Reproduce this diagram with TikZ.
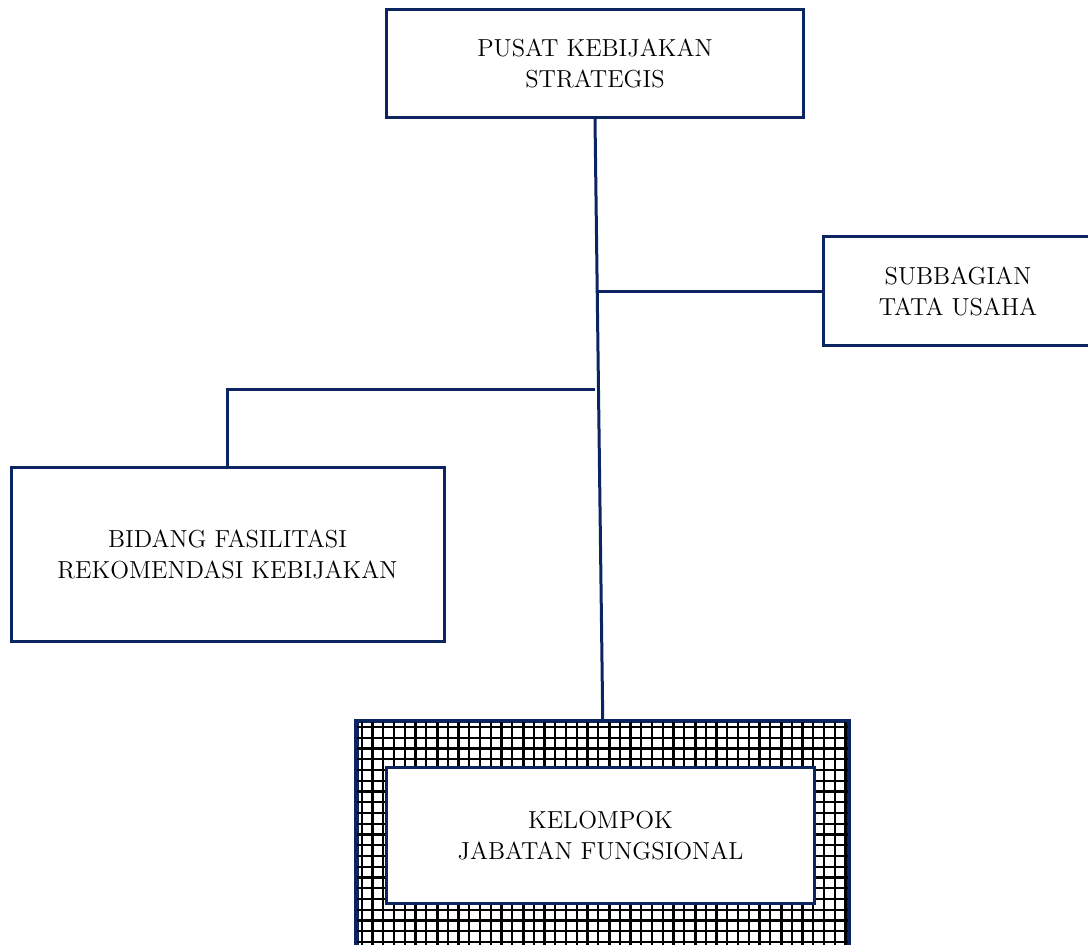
\documentclass[tikz,border=0pt]{standalone}
\usepackage{tikz}
\usepackage{color}
\definecolor{navy}{RGB}{12,36,96}

\begin{document}
\begin{tikzpicture}[x=0.5pt,y=-0.5pt,line width=1.5pt]
\tikzset{unitbox/.style={draw=navy,fill=white,align=center,inner sep=0pt,
  font=\fontsize{12.3}{15.4}\selectfont}}
\useasboundingbox (0,0) rectangle (1088,945);
%put boxes
\node[unitbox,minimum width=208.5pt,minimum height=54pt] (pusat) at (595,63.5)
  {PUSAT KEBIJAKAN\\STRATEGIS};
\node[unitbox,minimum width=135pt,minimum height=54.5pt] (subbag) at (958,291.5)
  {SUBBAGIAN\\TATA USAHA};
\node[unitbox,minimum width=216.5pt,minimum height=87pt] (bidang) at (227.5,554.5)
  {BIDANG FASILITASI\\REKOMENDASI KEBIJAKAN};
%grid frame
\node[draw=navy,minimum width=245.5pt,minimum height=114pt,inner sep=0pt] (kelompok) at (602.75,835.75) {};
\begin{scope}
\clip (kelompok.south west) rectangle (kelompok.north east);
\foreach \gx in {0,...,47} {\draw[black,line width=1.1pt] (351+\gx*10.75,700) -- ++(0,260);}
\foreach \gy in {0,...,22} {\draw[black,line width=1.1pt] (340,716.25+\gy*10.75) -- ++(520,0);}
\foreach \gx in {0,...,6} {\draw[black,line width=1.5pt] (351+\gx*86,700) -- ++(0,260);}
\end{scope}
\draw[navy] (kelompok.south west) rectangle (kelompok.north east);
\node[unitbox,minimum width=214pt,minimum height=68.25pt] (jabfung) at (600.5,835.75)
  {KELOMPOK\\JABATAN FUNGSIONAL};
%lines
\coordinate (j1) at (597,291.5);
\coordinate (j2) at (595,390);
\draw[navy] (pusat.south) -- (kelompok.north);
\draw[navy] (j1) -- (subbag.west);
\draw[navy] (j2) -| (bidang.north);
\end{tikzpicture}
\end{document}
